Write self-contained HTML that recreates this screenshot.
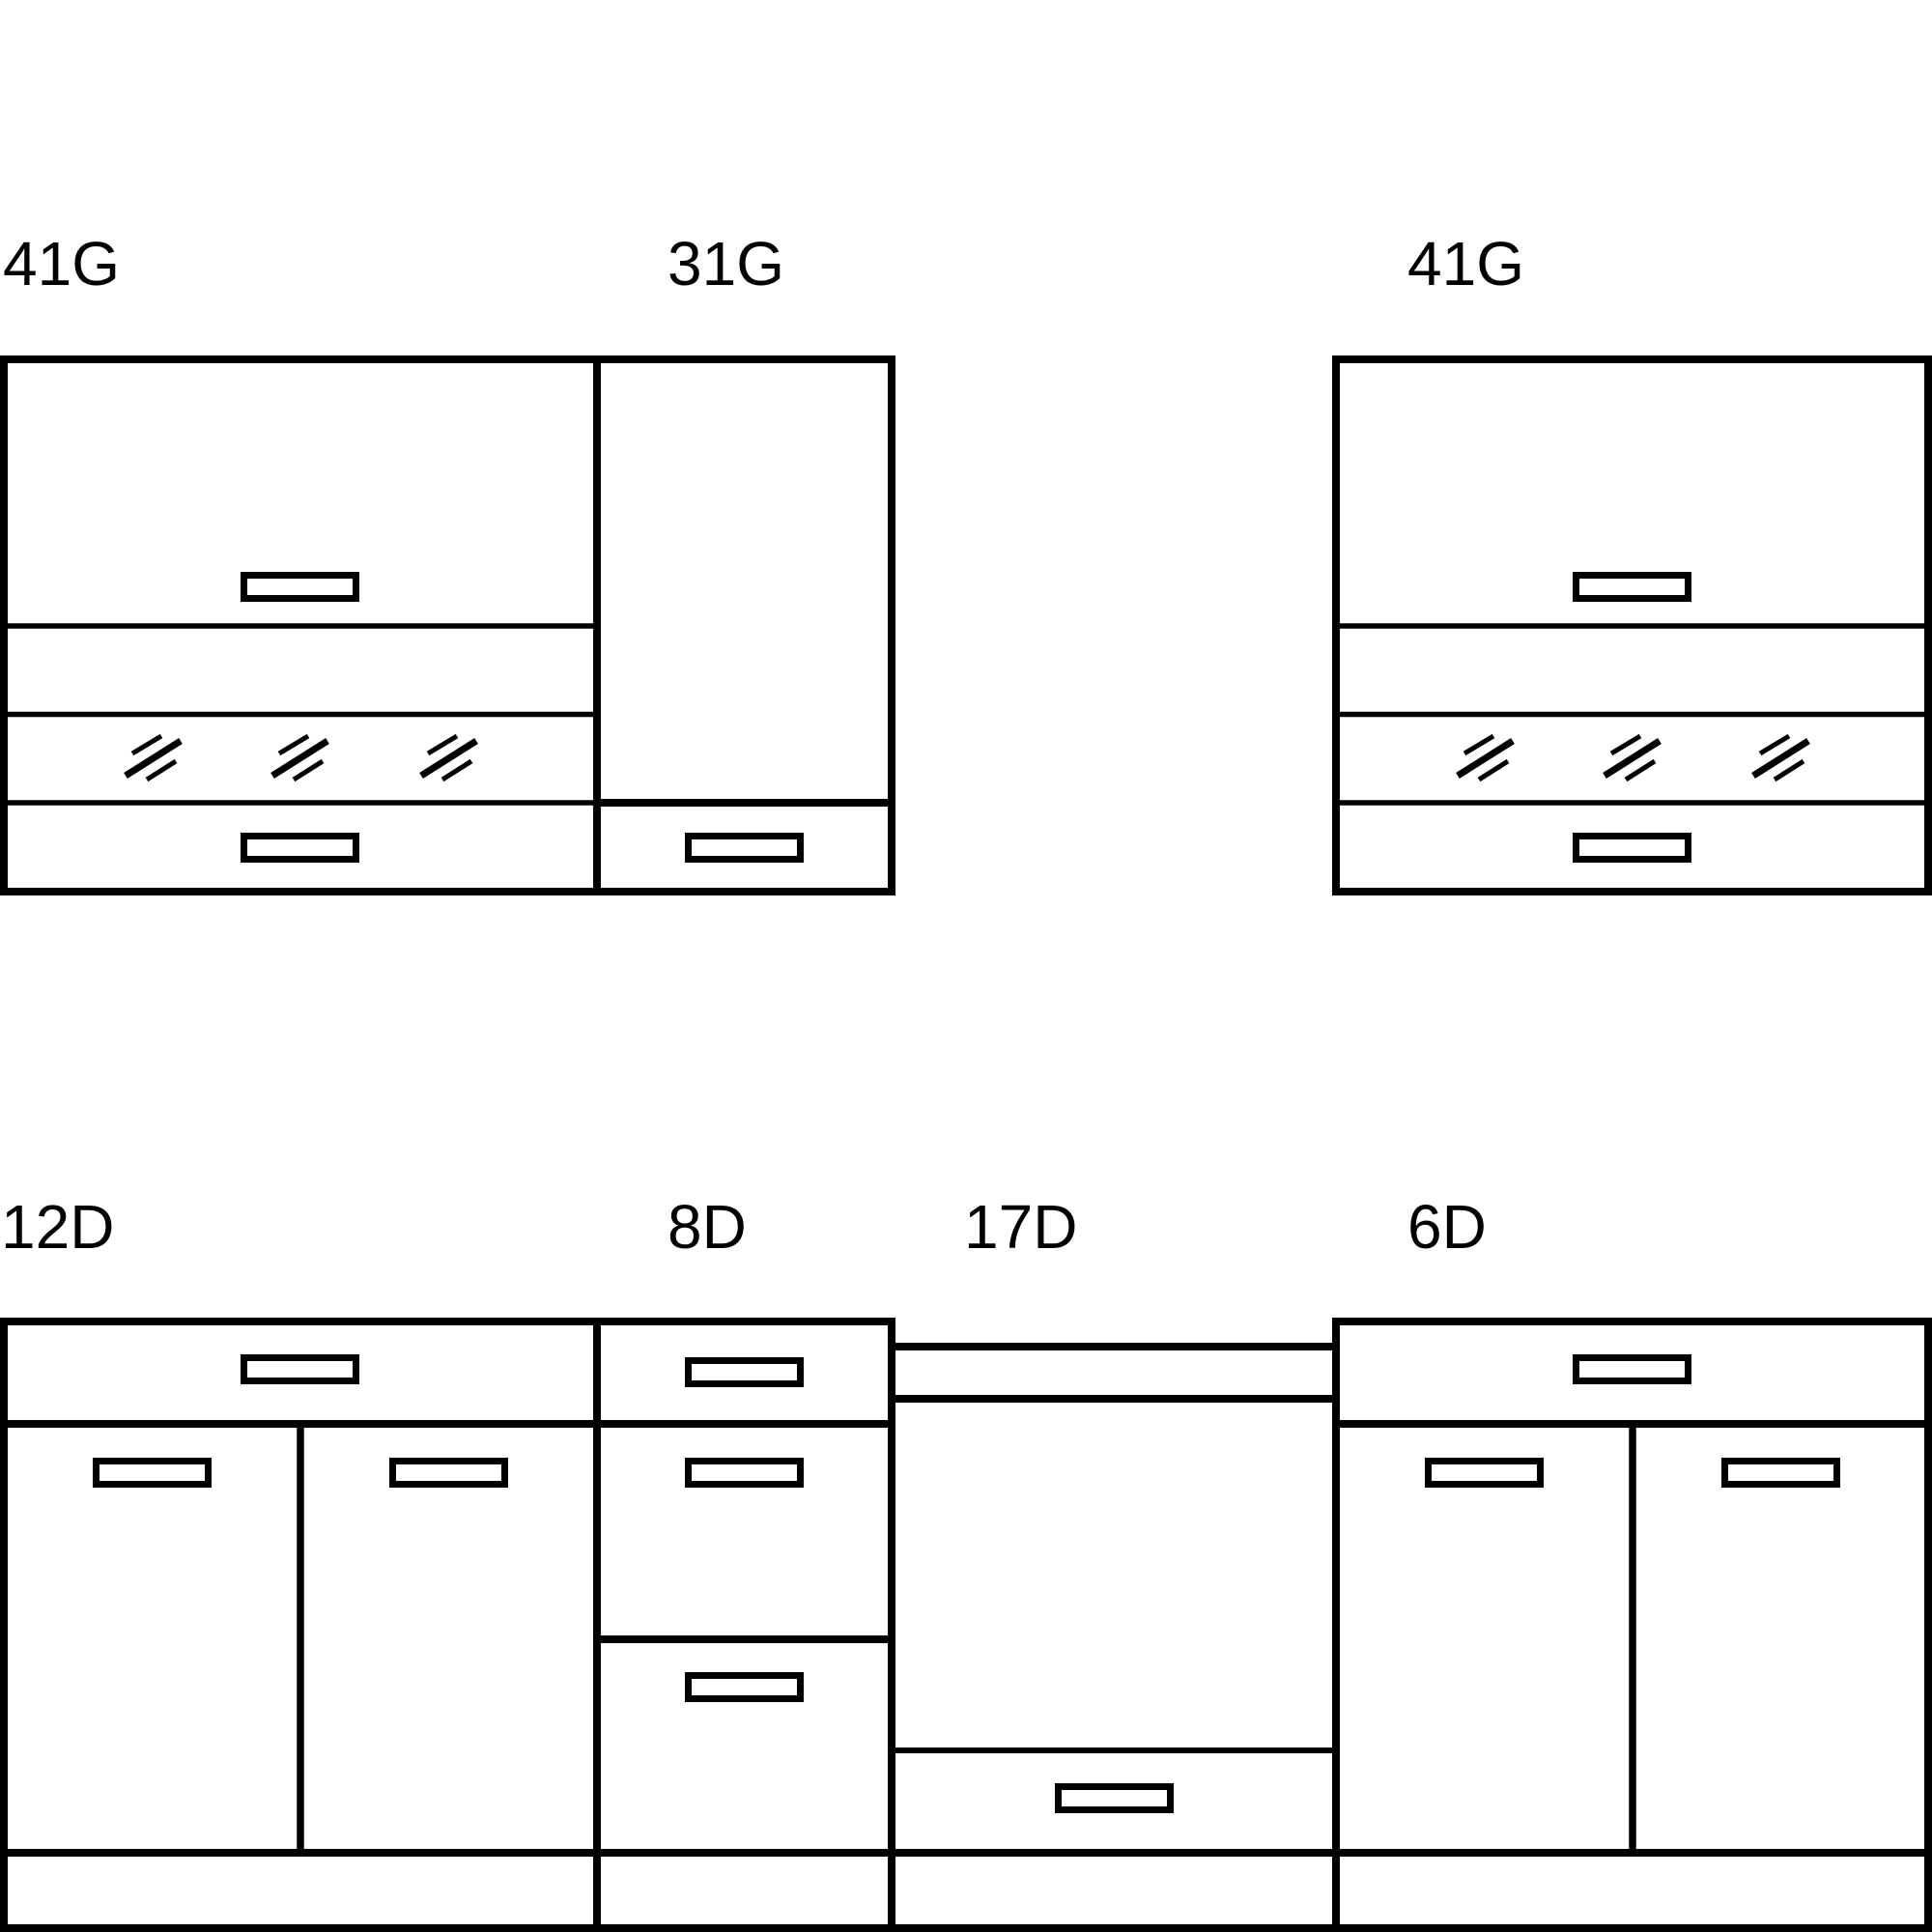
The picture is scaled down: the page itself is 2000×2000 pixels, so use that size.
<!DOCTYPE html>
<html><head><meta charset="utf-8"><style>
html,body{margin:0;padding:0;background:#fff;}
svg{display:block;}
text{font-family:"Liberation Sans",Arial,sans-serif;font-size:64px;fill:#000;}
</style></head><body>
<svg width="2000" height="2000" viewBox="0 0 2000 2000" xmlns="http://www.w3.org/2000/svg">
<rect width="2000" height="2000" fill="#fff"/>
<text x="3" y="295">41G</text>
<text x="691" y="295">31G</text>
<text x="1457" y="295">41G</text>
<text x="1" y="1292">12D</text>
<text x="691" y="1292">8D</text>
<text x="998" y="1292">17D</text>
<text x="1457" y="1292">6D</text>

<g fill="none" stroke="#000">
<g stroke-width="8">
<rect x="4" y="372" width="614" height="551"/>
<rect x="618" y="372" width="305" height="551"/>
<rect x="1383" y="372" width="613" height="551"/>
<line x1="618" y1="831" x2="923" y2="831"/>
</g>
<g stroke-width="5.5">
<line x1="4" y1="648" x2="618" y2="648"/>
<line x1="4" y1="739.5" x2="618" y2="739.5"/>
<line x1="4" y1="831" x2="618" y2="831"/>
<line x1="1383" y1="648" x2="1996" y2="648"/>
<line x1="1383" y1="739.5" x2="1996" y2="739.5"/>
<line x1="1383" y1="831" x2="1996" y2="831"/>
</g>
<g stroke-width="7">
<rect x="252.5" y="595.5" width="116" height="24"/>
<rect x="252.5" y="865.5" width="116" height="24"/>
<rect x="712.5" y="865.5" width="116" height="24"/>
<rect x="1631.5" y="595.5" width="116" height="24"/>
<rect x="1631.5" y="865.5" width="116" height="24"/>
</g>
<g id="gl">
<line x1="130" y1="803" x2="187" y2="767" stroke-width="7"/>
<line x1="137" y1="780" x2="167" y2="762" stroke-width="5"/>
<line x1="152" y1="807" x2="182" y2="788" stroke-width="5"/>
</g>
<use href="#gl" x="152"/>
<use href="#gl" x="306"/>
<use href="#gl" x="1379"/>
<use href="#gl" x="1531"/>
<use href="#gl" x="1685"/>

<g stroke-width="8">
<rect x="4" y="1368" width="614" height="628"/>
<rect x="618" y="1368" width="305" height="628"/>
<rect x="1383" y="1368" width="613" height="628"/>
<line x1="923" y1="1394" x2="1383" y2="1394"/>
<line x1="923" y1="1448" x2="1383" y2="1448"/>
<line x1="923" y1="1394" x2="923" y2="1996"/>
<line x1="923" y1="1996" x2="1383" y2="1996"/>
<line x1="4" y1="1474" x2="923" y2="1474"/>
<line x1="1383" y1="1474" x2="1996" y2="1474"/>
<line x1="4" y1="1918" x2="1996" y2="1918"/>
<line x1="618" y1="1697" x2="923" y2="1697"/>
</g>
<g stroke-width="6">
<line x1="923" y1="1812" x2="1383" y2="1812"/>
</g>
<g stroke-width="7.5">
<line x1="311" y1="1474" x2="311" y2="1918"/>
<line x1="1690" y1="1474" x2="1690" y2="1918"/>
</g>
<g stroke-width="7">
<rect x="252.5" y="1405.5" width="116" height="24"/>
<rect x="99.5" y="1512.5" width="116" height="24"/>
<rect x="406.5" y="1512.5" width="116" height="24"/>
<rect x="712.5" y="1408.5" width="116" height="24"/>
<rect x="712.5" y="1512.5" width="116" height="24"/>
<rect x="712.5" y="1734.5" width="116" height="24"/>
<rect x="1095.5" y="1849.5" width="116" height="24"/>
<rect x="1631.5" y="1405.5" width="116" height="24"/>
<rect x="1478.5" y="1512.5" width="116" height="24"/>
<rect x="1785.5" y="1512.5" width="116" height="24"/>
</g>
</g>
</svg>
</body></html>
